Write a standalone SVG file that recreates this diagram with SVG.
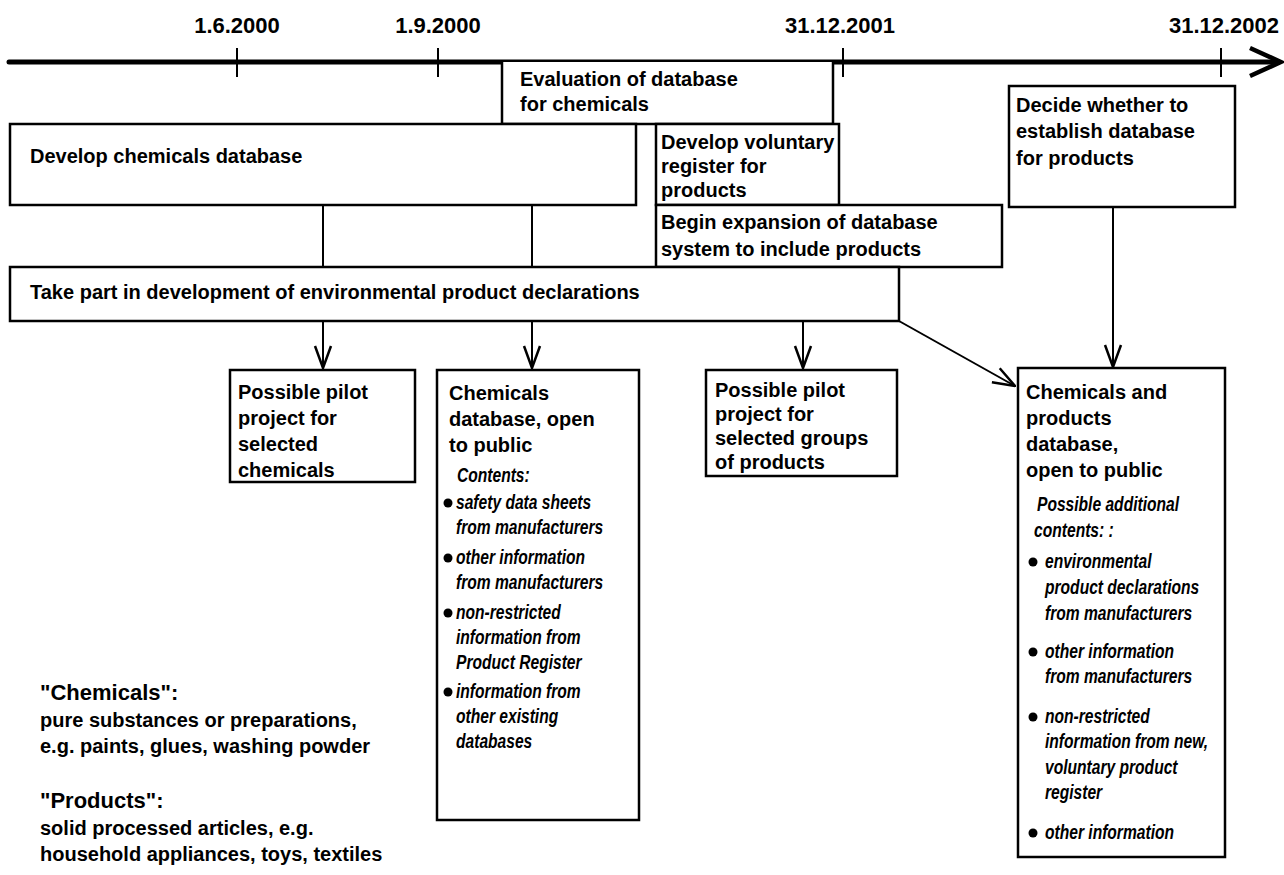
<svg xmlns="http://www.w3.org/2000/svg" width="1284" height="875" viewBox="0 0 1284 875">
<style>
text{font-family:"Liberation Sans",Arial,sans-serif;font-weight:bold;font-size:20px;fill:#000}
.it{font-style:italic;font-weight:bold;font-size:20px}
.hd{font-size:22px}
.tl{font-size:22px}
.box{fill:#fff;stroke:#000;stroke-width:2.5}
.ln{stroke:#000;stroke-width:2;fill:none}
.tick{stroke:#000;stroke-width:2}
</style>
<defs>
<marker id="ah" viewBox="0 0 24 20" refX="23" refY="10" markerWidth="24" markerHeight="20" markerUnits="userSpaceOnUse" orient="auto">
<path d="M1,2 L23,10 L1,18" fill="none" stroke="#000" stroke-width="2.5"/>
</marker>
</defs>
<g id="timeline">
<line x1="9" y1="62" x2="1278" y2="62" stroke="#000" stroke-width="5" stroke-linecap="round"/>
<path d="M1250,48 L1281,62 L1250,76" fill="none" stroke="#000" stroke-width="4.5"/>
<line class="tick" x1="237" y1="48" x2="237" y2="77"/>
<line class="tick" x1="438" y1="48" x2="438" y2="77"/>
<line class="tick" x1="843" y1="48" x2="843" y2="77"/>
<line class="tick" x1="1221" y1="48" x2="1221" y2="77"/>
<text class="tl" x="237" y="33" text-anchor="middle">1.6.2000</text>
<text class="tl" x="438" y="33" text-anchor="middle">1.9.2000</text>
<text class="tl" x="840" y="33" text-anchor="middle">31.12.2001</text>
<text class="tl" x="1224" y="33" text-anchor="middle">31.12.2002</text>
</g>
<g id="connectors">
<line class="ln" x1="323" y1="205" x2="323" y2="267"/>
<line class="ln" x1="532" y1="205" x2="532" y2="267"/>
<line class="ln" x1="323" y1="321" x2="323" y2="368" marker-end="url(#ah)"/>
<line class="ln" x1="532" y1="321" x2="532" y2="368" marker-end="url(#ah)"/>
<line class="ln" x1="803" y1="321" x2="803" y2="368" marker-end="url(#ah)"/>
<line class="ln" x1="1113" y1="207" x2="1113" y2="367" marker-end="url(#ah)"/>
<line class="ln" x1="899" y1="321" x2="1015" y2="386" marker-end="url(#ah)"/>
</g>
<g id="evaluation">
<path d="M502,62 V124 H833 V62" fill="#fff" stroke="#000" stroke-width="2.5"/>
<text x="520" y="86">Evaluation of database</text>
<text x="520" y="111">for chemicals</text>
</g>
<g id="develop-chem">
<rect class="box" x="10" y="124" width="626" height="81"/>
<text x="30" y="163">Develop chemicals database</text>
</g>
<g id="develop-voluntary">
<rect class="box" x="656" y="124" width="183" height="81"/>
<text x="661" y="149">Develop voluntary</text>
<text x="661" y="173">register for</text>
<text x="661" y="197">products</text>
</g>
<g id="begin-expansion">
<rect class="box" x="656" y="205" width="346" height="62"/>
<text x="661" y="229">Begin expansion of database</text>
<text x="661" y="256">system to include products</text>
</g>
<g id="take-part">
<rect class="box" x="10" y="267" width="889" height="54"/>
<text x="30" y="299">Take part in development of environmental product declarations</text>
</g>
<g id="decide">
<rect class="box" x="1009" y="86" width="226" height="121"/>
<text x="1016" y="112">Decide whether to</text>
<text x="1016" y="138">establish database</text>
<text x="1016" y="165">for products</text>
</g>
<g id="pilot-chem">
<rect class="box" x="230" y="370" width="185" height="112"/>
<text x="238" y="399">Possible pilot</text>
<text x="238" y="425">project for</text>
<text x="238" y="451">selected</text>
<text x="238" y="477">chemicals</text>
</g>
<g id="chem-db">
<rect class="box" x="437" y="370" width="202" height="450"/>
<text x="449" y="400">Chemicals</text>
<text x="449" y="426">database, open</text>
<text x="449" y="452">to public</text>
<g transform="translate(457,0) scale(0.78,1)"><text class="it" x="0" y="482">Contents:</text></g>
<circle cx="448" cy="503" r="4.5"/>
<circle cx="448" cy="558" r="4.5"/>
<circle cx="448" cy="613" r="4.5"/>
<circle cx="448" cy="692" r="4.5"/>
<g transform="translate(456,0) scale(0.78,1)">
<text class="it" x="0" y="509">safety data sheets</text>
<text class="it" x="0" y="534">from manufacturers</text>
<text class="it" x="0" y="564">other information</text>
<text class="it" x="0" y="589">from manufacturers</text>
<text class="it" x="0" y="619">non-restricted</text>
<text class="it" x="0" y="644">information from</text>
<text class="it" x="0" y="669">Product Register</text>
<text class="it" x="0" y="698">information from</text>
<text class="it" x="0" y="723">other existing</text>
<text class="it" x="0" y="748">databases</text>
</g>
</g>
<g id="pilot-products">
<rect class="box" x="706" y="370" width="191" height="106"/>
<text x="715" y="397">Possible pilot</text>
<text x="715" y="421">project for</text>
<text x="715" y="445">selected groups</text>
<text x="715" y="469">of products</text>
</g>
<g id="chem-products-db">
<rect class="box" x="1018" y="368" width="207" height="489"/>
<text x="1026" y="399">Chemicals and</text>
<text x="1026" y="425">products</text>
<text x="1026" y="451">database,</text>
<text x="1026" y="477">open to public</text>
<g transform="translate(1037,0) scale(0.78,1)"><text class="it" x="0" y="511">Possible additional</text></g>
<circle cx="1033" cy="562" r="4.5"/>
<circle cx="1033" cy="652" r="4.5"/>
<circle cx="1033" cy="717" r="4.5"/>
<circle cx="1033" cy="833" r="4.5"/>
<g transform="translate(1045,0) scale(0.78,1)">
<text class="it" x="-14" y="537">contents: :</text>
<text class="it" x="0" y="568">environmental</text>
<text class="it" x="0" y="594">product declarations</text>
<text class="it" x="0" y="620">from manufacturers</text>
<text class="it" x="0" y="658">other information</text>
<text class="it" x="0" y="683">from manufacturers</text>
<text class="it" x="0" y="723">non-restricted</text>
<text class="it" x="0" y="748">information from new,</text>
<text class="it" x="0" y="774">voluntary product</text>
<text class="it" x="0" y="799">register</text>
<text class="it" x="0" y="839">other information</text>
</g>
</g>
<g id="legend">
<text class="hd" x="40" y="700">"Chemicals":</text>
<text x="40" y="727">pure substances or preparations,</text>
<text x="40" y="753">e.g. paints, glues, washing powder</text>
<text class="hd" x="40" y="808">"Products":</text>
<text x="40" y="835">solid processed articles, e.g.</text>
<text x="40" y="861">household appliances, toys, textiles</text>
</g>
</svg>
